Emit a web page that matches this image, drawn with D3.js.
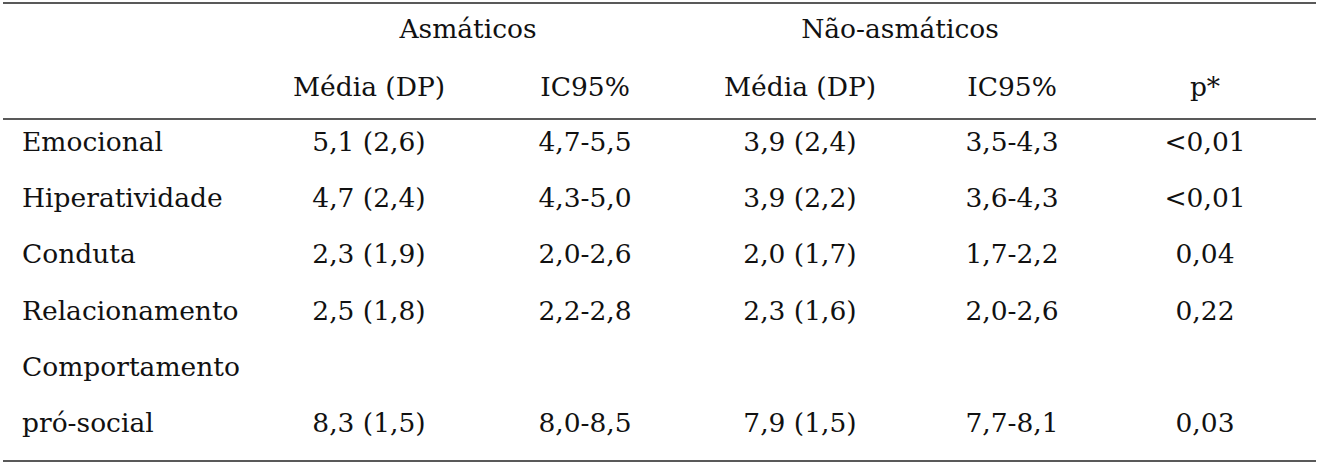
<!DOCTYPE html>
<html>
<head>
<meta charset="utf-8">
<script src="https://cdn.jsdelivr.net/npm/d3@7"></script>
<style>
  body { margin: 0; background: #fff; }
</style>
</head>
<body>
<svg id="paper"></svg>
<script>
// table data
const categories = ["Emocional", "Hiperatividade", "Conduta", "Relacionamento", ["Comportamento", "pró-social"]];
const asmMedia = ["5,1 (2,6)", "4,7 (2,4)", "2,3 (1,9)", "2,5 (1,8)", "8,3 (1,5)"];
const asmIC = ["4,7-5,5", "4,3-5,0", "2,0-2,6", "2,2-2,8", "8,0-8,5"];
const naoMedia = ["3,9 (2,4)", "3,9 (2,2)", "2,0 (1,7)", "2,3 (1,6)", "7,9 (1,5)"];
const naoIC = ["3,5-4,3", "3,6-4,3", "1,7-2,2", "2,0-2,6", "7,7-8,1"];
const pValues = ["<0,01", "<0,01", "0,04", "0,22", "0,03"];

const groups = ["Asmáticos", "Não-asmáticos"];
const columns = ["asmMedia", "asmIC", "naoMedia", "naoIC", "p"];
const columnLabels = ["Média (DP)", "IC95%", "Média (DP)", "IC95%", "p*"];

const width = 1320, height = 468;
// times-like face, DejaVu Serif is the serif that is actually there
const font = "'DejaVu Serif', serif";

const svg = d3.select("#paper")
    .attr("width", width)
    .attr("height", height)
    .attr("font-family", font)
    .attr("font-size", 26.5)
    .attr("fill", "#111");

// column centres
var x = d3.scaleOrdinal()
    .domain(columns)
    .range([369, 585, 800, 1012, 1205]);

var xGroup = d3.scaleOrdinal()
    .domain(groups)
    .range([468, 900]);

// each printed line of the body gets a slot
let lines = [];
categories.forEach((c, i) => {
    let parts = Array.isArray(c) ? c : [c];
    parts.forEach((p, j) => lines.push({label: p, row: i, last: j == parts.length - 1}));
});

var y = d3.scaleLinear()
    .domain([0, lines.length - 1])
    .range([151, 432]);

// rules
const rules = [3, 119, 461];
svg.selectAll(".rule")
    .data(rules)
    .enter().append("line")
    .attr("x1", 3)
    .attr("x2", 1316)
    .attr("y1", d => d)
    .attr("y2", d => d)
    .attr("stroke", "#222")
    .attr("stroke-width", 1.6);

// group headers
svg.selectAll(".group")
    .data(groups)
    .enter().append("text")
    .attr("x", d => xGroup(d))
    .attr("y", 38)
    .attr("text-anchor", "middle")
    .text(d => d);

// column headers
svg.selectAll(".colhead")
    .data(columns)
    .enter().append("text")
    .attr("x", d => x(d))
    .attr("y", 96)
    .attr("text-anchor", "middle")
    .text((d, i) => columnLabels[i]);

// row labels
svg.selectAll(".label")
    .data(lines)
    .enter().append("text")
    .attr("x", 22)
    .attr("y", (d, i) => y(i))
    .text(d => d.label);

// cells
const series = {asmMedia: asmMedia, asmIC: asmIC, naoMedia: naoMedia, naoIC: naoIC, p: pValues};
let cells = [];
lines.forEach((l, i) => {
    if (!l.last) return;
    columns.forEach(c => cells.push({col: c, line: i, value: series[c][l.row]}));
});

svg.selectAll(".cell")
    .data(cells)
    .enter().append("text")
    .attr("x", d => x(d.col))
    .attr("y", d => y(d.line))
    .attr("text-anchor", "middle")
    .text(d => d.value);
</script>
</body>
</html>
